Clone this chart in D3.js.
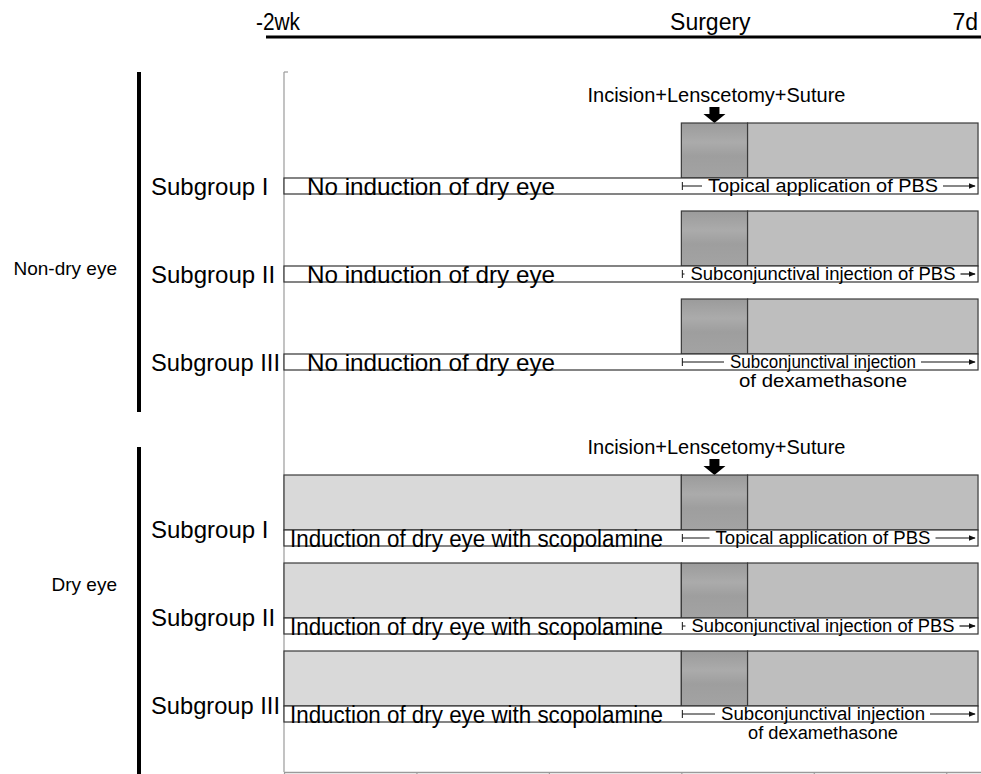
<!DOCTYPE html>
<html>
<head>
<meta charset="utf-8">
<script src="https://cdn.jsdelivr.net/npm/d3@7/dist/d3.min.js"></script>
<style>
  body { margin: 0; background: #fff; }
  text { font-family: "Liberation Sans", Arial, sans-serif; }
</style>
</head>
<body>
<div id="chart"></div>
<script>
// timeline (grid units on the x axis)
var timeLabels = ["-2wk", "Surgery", "7d"];
var timePos = [0, 3, 5.24];
var axisTicks = [0, 1, 2, 3, 4, 5];

// phases: dry eye induction, surgery, follow-up treatment
var phaseStart = [0, 3, 3.5];
var phaseEnd = [3, 3.5, 5.24];

var groups = ["Non-dry eye", "Dry eye"];
var subgroups = ["Subgroup I", "Subgroup II", "Subgroup III"];
var inductionText = ["No induction of dry eye", "Induction of dry eye with scopolamine"];
var treatments = [
  ["Topical application of PBS"],
  ["Subconjunctival injection of PBS"],
  ["Subconjunctival injection", "of dexamethasone"]
];
var surgeryText = "Incision+Lenscetomy+Suture";
// row slot of each subgroup (4th slot left empty between groups)
var rowSlots = [[0, 1, 2], [4, 5, 6]];

var width = 981, height = 774;

var svg = d3.select("#chart").append("svg")
  .attr("width", width)
  .attr("height", height);

var x = d3.scaleLinear().domain([0, 5.27]).range([284, 982]);
var y = d3.scaleLinear().domain([0, 6]).range([178, 706]);

var boxH = 55, stripH = 16;

var defs = svg.append("defs");
var grad = defs.append("linearGradient").attr("id", "surg")
  .attr("x1", 0).attr("y1", 0).attr("x2", 0).attr("y2", 1);
grad.append("stop").attr("offset", "0%").attr("stop-color", "#9b9b9b");
grad.append("stop").attr("offset", "35%").attr("stop-color", "#ababab");
grad.append("stop").attr("offset", "60%").attr("stop-color", "#9e9e9e");
grad.append("stop").attr("offset", "100%").attr("stop-color", "#a3a3a3");

defs.append("marker").attr("id", "arr")
  .attr("viewBox", "0 0 10 10").attr("refX", 9).attr("refY", 5)
  .attr("markerWidth", 7).attr("markerHeight", 7).attr("orient", "auto")
  .attr("markerUnits", "userSpaceOnUse")
  .append("path").attr("d", "M0,1 L10,5 L0,9 Z").attr("fill", "#111");

// top time line
svg.append("line")
  .attr("x1", 266).attr("x2", 981).attr("y1", 37).attr("y2", 37)
  .attr("stroke", "#000").attr("stroke-width", 3);

svg.selectAll(".tlab").data(timeLabels).enter().append("text")
  .attr("class", "tlab")
  .attr("x", function(d, i) { return i == 0 ? 256 : (i == 1 ? x(timePos[i]) + 29 : x(timePos[i])); })
  .attr("y", 30)
  .attr("text-anchor", function(d, i) { return i == 0 ? "start" : (i == 1 ? "middle" : "end"); })
  .attr("font-size", "23px")
  .attr("textLength", function(d, i) { return i == 0 ? 44 : null; })
  .attr("lengthAdjust", "spacingAndGlyphs")
  .text(function(d) { return d; });

// gray frame axes
svg.append("line")
  .attr("x1", x(0)).attr("x2", x(0)).attr("y1", 72).attr("y2", 772)
  .attr("stroke", "#9a9a9a").attr("stroke-width", 1.2);
svg.append("line")
  .attr("x1", x(0)).attr("x2", x(0) + 4).attr("y1", 72).attr("y2", 72)
  .attr("stroke", "#9a9a9a").attr("stroke-width", 1.2);

var xAxis = svg.append("g")
  .attr("transform", "translate(0,772)")
  .call(d3.axisBottom(x).tickValues(axisTicks).tickFormat("").tickSize(4).tickSizeOuter(0));
xAxis.select(".domain").attr("stroke", "#9a9a9a").attr("stroke-width", 1.5);
xAxis.selectAll(".tick line").attr("stroke", "#9a9a9a").attr("stroke-width", 1.2);

// group brackets + labels
var bracketY = [[72, 412], [447, 774]];
var groupLabelY = [275, 591];
groups.forEach(function(g, gi) {
  svg.append("rect")
    .attr("x", 137).attr("y", bracketY[gi][0])
    .attr("width", 4).attr("height", bracketY[gi][1] - bracketY[gi][0])
    .attr("fill", "#000");
  svg.append("text")
    .attr("x", 117).attr("y", groupLabelY[gi])
    .attr("text-anchor", "end")
    .attr("font-size", "19px")
    .text(g);
});

var phaseFill = ["#d9d9d9", "url(#surg)", "#bebebe"];
var inductionWidth = [248, 373];
var inductionSize = ["24px", "23px"];
var treatWidth = [[[230], [265], [186, 168]], [[215], [263], [204, 150]]];
var treatSize = ["19px", "18px"];
var labelOffset = [17, 8];

groups.forEach(function(g, gi) {
  var firstTop = y(rowSlots[gi][0]) - boxH;

  // surgery label + arrow
  var sx = (x(phaseStart[1]) + x(phaseEnd[1])) / 2;
  svg.append("text")
    .attr("x", sx + 2).attr("y", firstTop - 21)
    .attr("text-anchor", "middle")
    .attr("font-size", "20px")
    .text(surgeryText);
  svg.append("path")
    .attr("d", "M" + (sx - 5) + "," + (firstTop - 16) + " h10 v7 h6 l-11,9 l-11,-9 h6 Z")
    .attr("fill", "#000");

  subgroups.forEach(function(s, si) {
    var st = y(rowSlots[gi][si]);
    var bt = st - boxH;

    // phase boxes (dry eye group has the induction phase box)
    phaseStart.forEach(function(p, pi) {
      if (pi == 0 && gi == 0) return;
      svg.append("rect")
        .attr("x", x(p)).attr("y", bt)
        .attr("width", x(phaseEnd[pi]) - x(p)).attr("height", boxH)
        .attr("fill", phaseFill[pi])
        .attr("stroke", "#3a3a3a").attr("stroke-width", 1.2);
    });

    // strip
    svg.append("rect")
      .attr("x", x(0)).attr("y", st)
      .attr("width", x(timePos[2]) - x(0)).attr("height", stripH)
      .attr("fill", "#fff")
      .attr("stroke", "#333").attr("stroke-width", 1.2);

    // subgroup label
    svg.append("text")
      .attr("x", 151).attr("y", st + labelOffset[gi])
      .attr("font-size", "24px")
      .attr("textLength", si == 2 ? 129 : null)
      .attr("lengthAdjust", "spacingAndGlyphs")
      .text(s);

    // induction text
    svg.append("text")
      .attr("x", gi == 0 ? 307 : 290).attr("y", st + 17)
      .attr("font-size", inductionSize[gi])
      .attr("textLength", inductionWidth[gi])
      .attr("lengthAdjust", "spacingAndGlyphs")
      .text(inductionText[gi]);

    // treatment text with arrow
    var cx = 823;
    treatments[si].forEach(function(line, li) {
      svg.append("text")
        .attr("x", cx).attr("y", st + 14 + li * 19)
        .attr("text-anchor", "middle")
        .attr("font-size", treatSize[gi])
        .attr("textLength", treatWidth[gi][si][li])
        .attr("lengthAdjust", "spacingAndGlyphs")
        .text(line);
    });
    var tw = treatWidth[gi][si][0];
    var my = st + stripH / 2;
    var x0 = x(phaseStart[1]) + 1;
    svg.append("line")
      .attr("x1", x0).attr("x2", x0).attr("y1", my - 4).attr("y2", my + 4)
      .attr("stroke", "#111").attr("stroke-width", 1);
    svg.append("line")
      .attr("x1", x0).attr("x2", cx - tw / 2 - 6).attr("y1", my).attr("y2", my)
      .attr("stroke", "#111").attr("stroke-width", 1);
    svg.append("line")
      .attr("x1", cx + tw / 2 + 5).attr("x2", x(timePos[2]) - 3).attr("y1", my).attr("y2", my)
      .attr("stroke", "#111").attr("stroke-width", 1.2)
      .attr("marker-end", "url(#arr)");
  });
});
</script>
</body>
</html>
